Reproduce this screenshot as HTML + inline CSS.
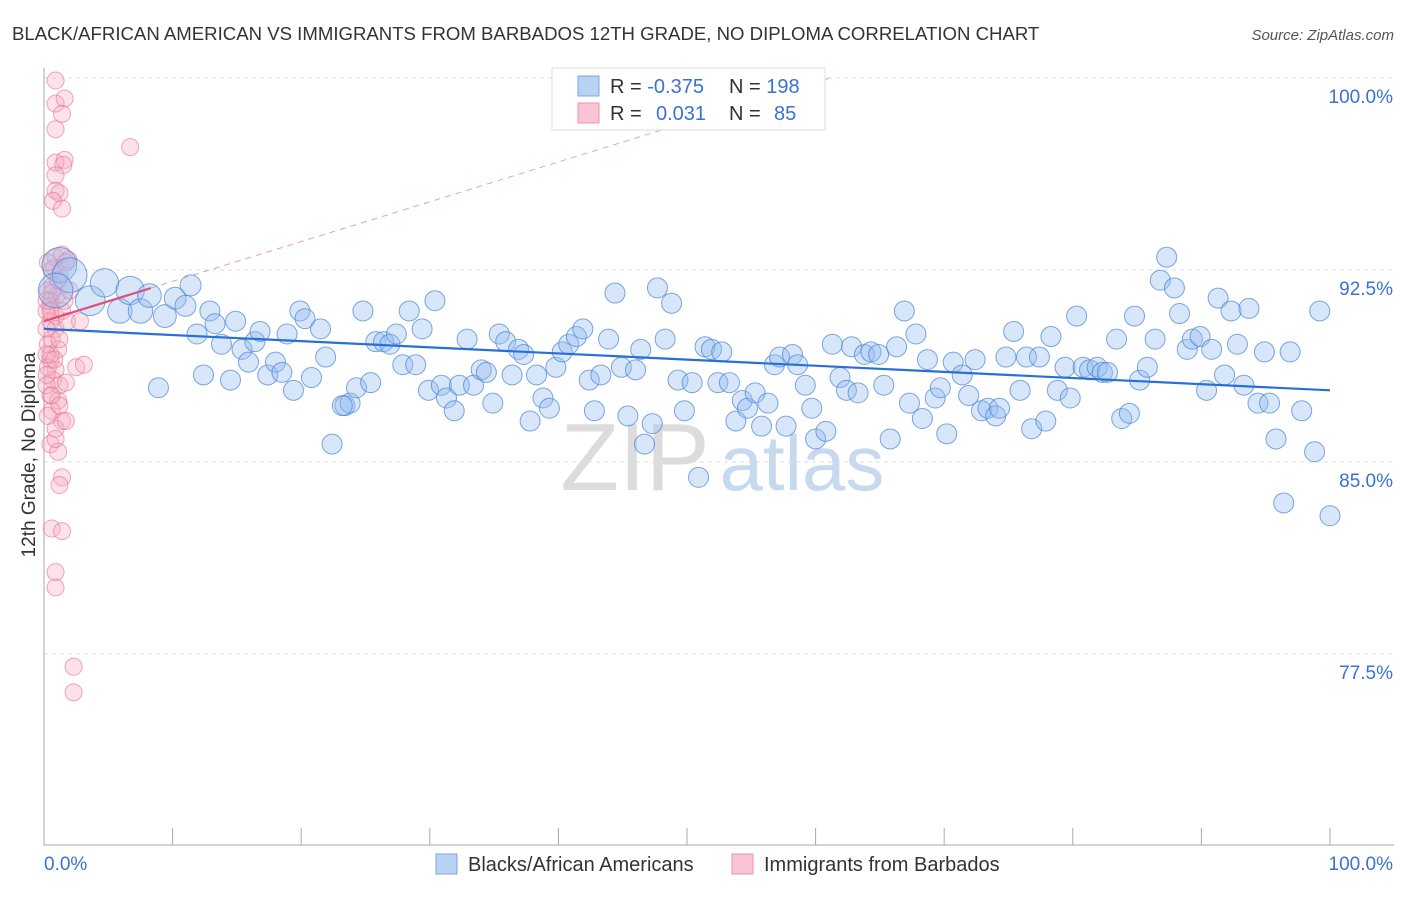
<!DOCTYPE html>
<html><head><meta charset="utf-8"><style>
body{margin:0;background:#fff;font-family:"Liberation Sans",sans-serif;}
svg text{font-family:"Liberation Sans",sans-serif;}
</style></head><body>
<svg id="chart" width="1406" height="892" xmlns="http://www.w3.org/2000/svg">
<text x="12" y="40" font-size="18.6" fill="#333">BLACK/AFRICAN AMERICAN VS IMMIGRANTS FROM BARBADOS 12TH GRADE, NO DIPLOMA CORRELATION CHART</text>
<text x="1394" y="40" font-size="15" fill="#555" font-style="italic" text-anchor="end">Source: ZipAtlas.com</text>
<g>
<text x="635" y="490" font-size="96" font-family="Liberation Serif" fill="#dcdcdc" text-anchor="middle">ZIP</text>
<text x="802" y="490" font-size="78" fill="#c7d9ef" text-anchor="middle">atlas</text>
</g>
<g id="grid"></g>
<g id="axes"></g>
<g id="pts"></g>
<g id="lines"></g>
<text transform="translate(35,455) rotate(-90)" font-size="19" fill="#333" text-anchor="middle">12th Grade, No Diploma</text>
<g>
<rect x="552" y="68" width="273" height="62" fill="#fff" stroke="#ddd"/>
<rect x="578" y="76" width="21" height="20" fill="#b8d2f4" stroke="#7aa7e6"/>
<rect x="578" y="103" width="21" height="20" fill="#f9c5d4" stroke="#ef93ad"/>
<text x="610" y="93" font-size="20" fill="#333">R = <tspan fill="#3a72d0">-0.375</tspan></text>
<text x="729" y="93" font-size="20" fill="#333">N = <tspan fill="#3a72d0">198</tspan></text>
<text x="610" y="120" font-size="20" fill="#333">R = <tspan fill="#3a72d0" x="656">0.031</tspan></text>
<text x="729" y="120" font-size="20" fill="#333">N = <tspan fill="#3a72d0" x="774">85</tspan></text>
</g>
<g>
<rect x="436" y="854" width="21" height="20" fill="#b8d2f4" stroke="#7aa7e6"/>
<text x="468" y="871" font-size="20" fill="#333">Blacks/African Americans</text>
<rect x="732" y="854" width="21" height="20" fill="#f9c5d4" stroke="#ef93ad"/>
<text x="764" y="871" font-size="20" fill="#333">Immigrants from Barbados</text>
</g>
</svg>
<script>
const yTicks=[100,92.5,85,77.5];
const yTickLabels=["100.0%","92.5%","85.0%","77.5%"];
const xEndLabels=["0.0%","100.0%"];
const blueX=[1.2,2.0,0.9,3.6,4.7,5.9,6.7,7.5,8.2,9.4,10.2,11.4,11.0,11.9,12.9,13.3,13.8,14.9,15.4,15.9,16.4,16.8,17.4,18.0,18.5,18.9,19.4,19.9,20.3,20.8,21.5,21.9,22.4,23.4,23.8,24.3,24.8,25.4,25.8,26.4,26.9,27.4,27.9,28.4,28.9,29.4,29.9,30.4,30.9,31.3,31.9,32.3,32.9,33.4,34.0,34.4,34.9,35.4,35.9,36.4,36.9,37.3,37.8,38.3,38.8,39.3,39.8,40.3,40.8,41.4,41.9,42.4,42.8,43.3,43.9,44.4,44.9,45.4,46.0,46.4,46.7,47.3,47.7,48.3,48.8,49.3,49.8,50.4,50.9,51.4,51.9,52.4,52.7,53.3,53.8,54.3,54.7,55.3,55.8,56.3,56.8,57.2,57.7,58.2,58.6,59.2,59.7,60.0,60.8,61.3,61.9,62.4,62.8,63.3,63.8,64.3,64.9,65.3,65.8,66.3,66.9,67.3,67.8,68.3,68.7,69.3,69.7,70.2,70.7,71.4,71.9,72.4,72.9,73.4,74.0,74.3,74.8,75.4,75.9,76.4,76.8,77.4,77.9,78.3,78.8,79.4,79.8,80.3,80.8,81.3,81.9,82.3,82.7,83.4,83.8,84.4,84.8,85.2,85.8,86.4,86.8,87.3,87.9,88.3,88.9,89.3,89.9,90.4,90.8,91.3,91.8,92.3,92.8,93.3,93.7,94.4,94.9,95.3,95.8,96.4,96.9,97.8,98.8,99.2,100,8.9,12.4,14.5,23.2];
const blueY=[92.7,92.3,91.7,91.3,92.0,90.9,91.7,90.9,91.5,90.7,91.4,91.9,91.1,90.0,90.9,90.4,89.6,90.5,89.4,88.9,89.7,90.1,88.4,88.9,88.5,90.0,87.8,90.9,90.6,88.3,90.2,89.1,85.7,87.2,87.3,87.9,90.9,88.1,89.7,89.7,89.6,90.0,88.8,90.9,88.8,90.2,87.8,91.3,88.0,87.5,87.0,88.0,89.8,88.0,88.6,88.5,87.3,90.0,89.7,88.4,89.4,89.2,86.6,88.4,87.5,87.1,88.7,89.3,89.6,89.9,90.2,88.2,87.0,88.4,89.8,91.6,88.7,86.8,88.6,89.4,85.7,86.5,91.8,89.8,91.2,88.2,87.0,88.1,84.4,89.5,89.4,88.1,89.3,88.1,86.6,87.4,87.1,87.7,86.4,87.3,88.8,89.1,86.4,89.2,88.8,88.0,87.1,85.9,86.2,89.6,88.3,87.8,89.5,87.7,89.2,89.3,89.2,88.0,85.9,89.5,90.9,87.3,90.0,86.7,89.0,87.5,87.9,86.1,88.9,88.4,87.6,89.0,87.0,87.1,86.8,87.1,89.1,90.1,87.8,89.1,86.3,89.1,86.6,89.9,87.8,88.7,87.5,90.7,88.7,88.6,88.7,88.5,88.5,89.8,86.7,86.9,90.7,88.2,88.7,89.8,92.1,93.0,91.8,90.8,89.4,89.8,89.9,87.8,89.4,91.4,88.4,90.9,89.6,88.0,91.0,87.3,89.3,87.3,85.9,83.4,89.3,87.0,85.4,90.9,82.9,87.9,88.4,88.2,87.2];
const blueSize=[3,3,3,2.2,2,1.5,2,1.5,1.4,1.3,1.2,1.1,1.1];
const pinkX=[0.9,0.9,1.6,1.4,0.9,0.9,1.6,1.5,0.9,0.9,1.2,0.7,1.4,6.7,0.9,1.4,1.9,0.6,1.2,0.7,1.0,0.5,0.9,1.4,0.5,0.9,1.8,2.8,0.6,1.1,0.5,0.9,0.7,1.2,1.7,2.5,3.1,0.5,1.1,0.6,1.4,0.9,1.7,0.5,1.1,1.4,1.2,0.6,1.4,0.9,0.9,2.3,2.3,0.3,0.5,0.2,0.6,0.2,0.3,0.5,0.3,0.2,0.8,1.1,1.6,0.3,0.2,0.5,1.2,0.2,0.8,0.2,0.6,1.2,0.3,0.9,2.0,1.7];
const pinkY=[99.9,99.0,99.2,98.6,98.0,96.7,96.8,96.6,96.2,95.6,95.5,95.2,94.9,97.3,93.0,93.1,92.9,92.5,92.3,91.9,91.5,91.1,90.7,90.9,90.5,90.2,90.5,90.5,89.8,89.4,89.0,88.6,88.2,88.0,88.1,88.7,88.8,87.6,87.4,87.0,86.6,86.3,86.6,85.7,85.4,84.4,84.1,82.4,82.3,80.7,80.1,77.0,76.0,91.7,91.3,90.9,91.6,90.2,89.6,89.2,88.7,88.4,92.6,92.1,91.3,92.8,91.3,90.9,89.8,89.2,89.0,88.0,87.6,87.2,86.8,85.9,91.7,92.8];
const blueTrend=[90.2,87.8];
const pinkTrend=[90.5,100];
const pinkTrendX=[0,61.1];
const pinkSolidEnd=8.3;

const X0=44,X1=1330,YT=78,PY=25.6;
const xs=v=>X0+v*(X1-X0)/100;
const ys=v=>YT+(100-v)*PY;
const NS="http://www.w3.org/2000/svg";
function mk(tag,attrs,parent){const e=document.createElementNS(NS,tag);for(const k in attrs)e.setAttribute(k,attrs[k]);parent.appendChild(e);return e;}
const grid=document.getElementById('grid'),axes=document.getElementById('axes'),pts=document.getElementById('pts'),lines=document.getElementById('lines');
yTicks.forEach((t,i)=>{
 const l=mk('line',{x1:X0,x2:1394,y1:ys(t),y2:ys(t),stroke:'#ddd','stroke-dasharray':'4,4'},grid);
 
 
 const tx=mk('text',{x:1393,y:ys(t)+25,'font-size':19,fill:'#3a72d0','text-anchor':'end'},axes);
 tx.textContent=yTickLabels[i];
 
 
});
const ax=mk('line',{x1:X0,x2:X0,y1:68,y2:845,stroke:'#aaa'},axes);


const bx=mk('line',{x1:X0,x2:1394,y1:845,y2:845,stroke:'#aaa'},axes);


for(let i=1;i<=10;i++){
 const tk=mk('line',{x1:xs(i*10),x2:xs(i*10),y1:828,y2:845,stroke:'#aaa'},axes);
 
 
}
const xl0=mk('text',{x:44,y:870,'font-size':19,fill:'#3a72d0'},axes);
xl0.textContent=xEndLabels[0];


const xl1=mk('text',{x:1393,y:870,'font-size':19,fill:'#3a72d0','text-anchor':'end'},axes);
xl1.textContent=xEndLabels[1];


pinkX.forEach((x,i)=>{
 const c=mk('circle',{cx:xs(x),cy:ys(pinkY[i]),r:8.5,fill:'rgba(245,170,192,0.33)',stroke:'rgba(232,120,150,0.65)','stroke-width':1},pts);
 
 
});
blueX.forEach((x,i)=>{
 const s=blueSize[i]||1;
 const c=mk('circle',{cx:xs(x),cy:ys(blueY[i]),r:10*Math.sqrt(s),fill:'rgba(150,190,240,0.38)',stroke:'rgba(70,130,215,0.7)','stroke-width':1},pts);
 
 
});
const bl=mk('line',{x1:xs(0),y1:ys(blueTrend[0]),x2:xs(100),y2:ys(blueTrend[1]),stroke:'#2a6fd8','stroke-width':2.2},lines);


const slope=(pinkTrend[1]-pinkTrend[0])/(pinkTrendX[1]-pinkTrendX[0]);
const pe=pinkTrend[0]+slope*pinkSolidEnd;
const pd=mk('line',{x1:xs(pinkSolidEnd),y1:ys(pe),x2:xs(pinkTrendX[1]),y2:ys(pinkTrend[1]),stroke:'#e8a0b5','stroke-width':1,'stroke-dasharray':'6,5'},lines);


const pl=mk('line',{x1:xs(pinkTrendX[0]),y1:ys(pinkTrend[0]),x2:xs(pinkSolidEnd),y2:ys(pe),stroke:'#e0507a','stroke-width':2.2},lines);


</script>
</body></html>
